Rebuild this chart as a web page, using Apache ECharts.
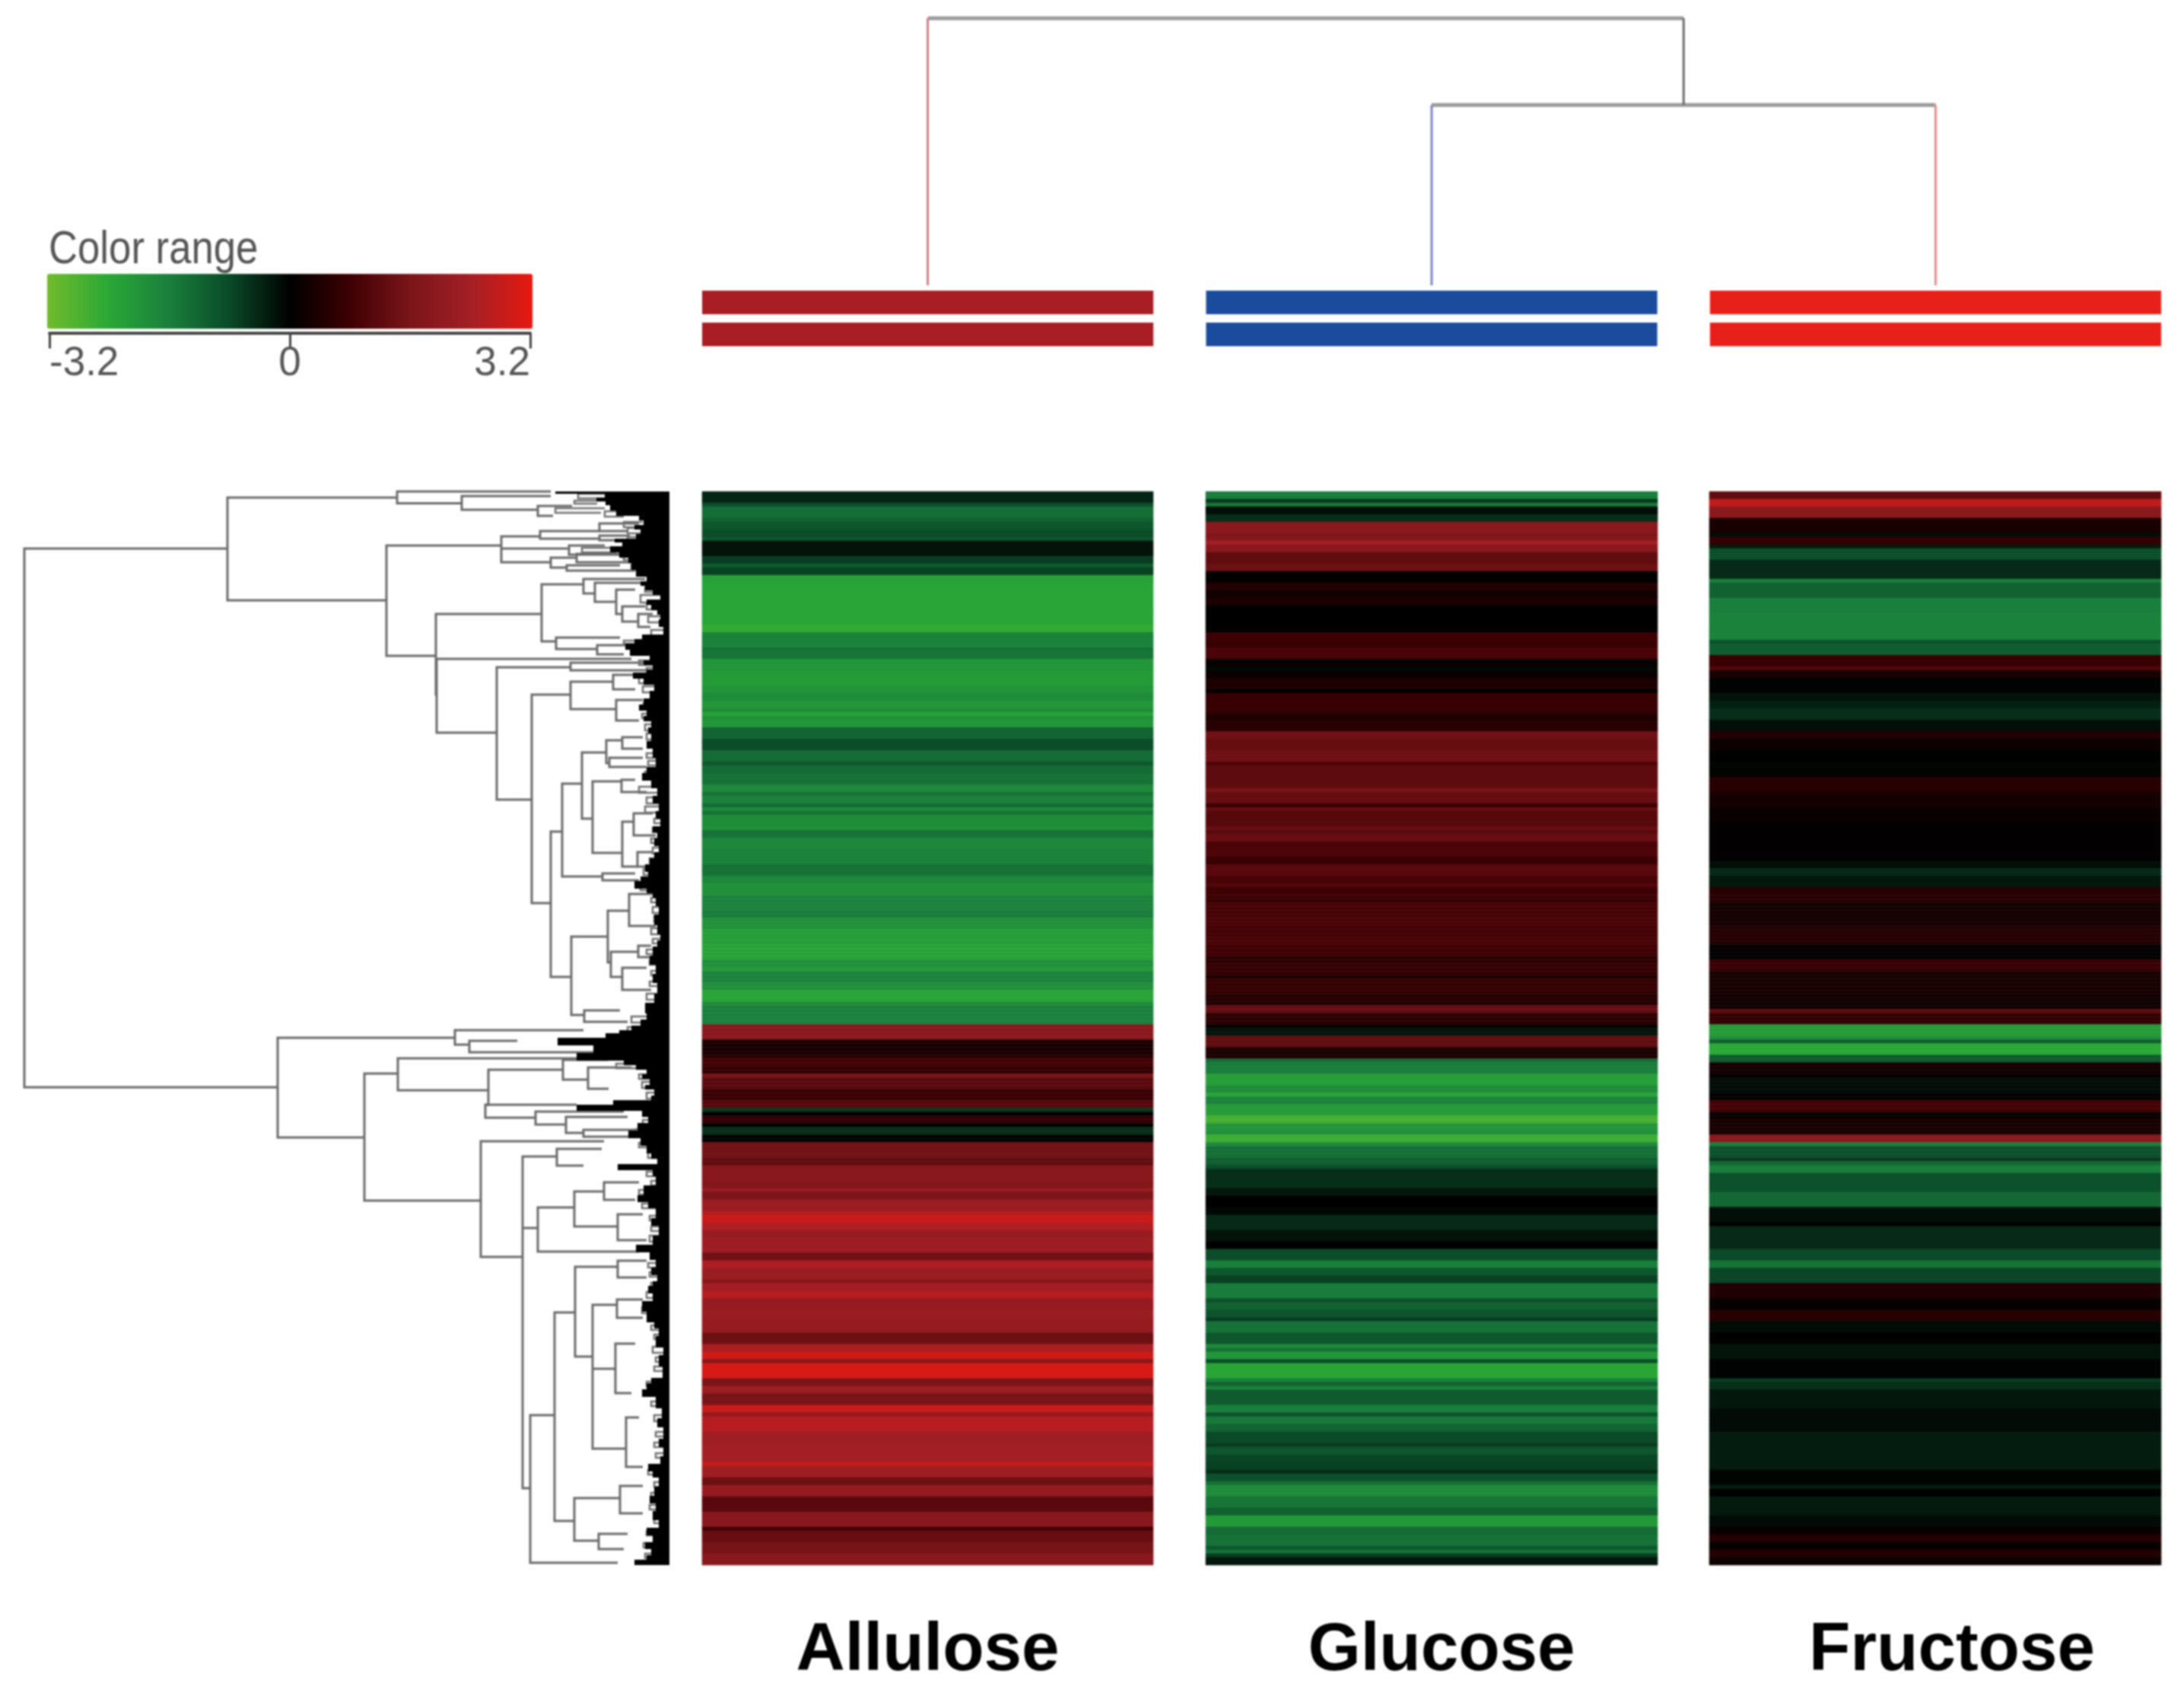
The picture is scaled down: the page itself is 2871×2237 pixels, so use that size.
<!DOCTYPE html>
<html><head><meta charset="utf-8">
<style>html,body{margin:0;padding:0;background:#fff}#c{width:2871px;height:2237px;filter:blur(1.3px)}</style>
<script src="https://cdn.jsdelivr.net/npm/echarts@6/dist/echarts.min.js"></script>
</head><body><div id="c"></div>
<script>
const samples = ['Allulose','Glucose','Fructose'];
const colorStops = ['#72bb2d','#2aa836','#1a7f3c','#0a4a28','#000000','#3f0003','#7b1519','#a41f25','#e81810'];
const rangeMin = -3.2, rangeMax = 3.2, rangeTicks = 3.2;
const rowCount = 282;

// each entry: [row where the band ends, log2 value]
const allulose = [[3,-.4],[4.5,-.85],[7.5,-1.35],[8.5,-1.15],[10.5,-1],[12,-.85],[13.5,-1],[17,-.2],[19,-.65],[20.5,-1.05],[21.8,-.7],[24,-2.25],[35.5,-2.33],[37.5,-2.5],[41,-1.65],[42,-1.4],[43.6,-1.45],[46.8,-2.05],[50.8,-2.15],[53,-2],[55.5,-1.85],[56.8,-2.05],[57.8,-1.85],[59.5,-2.3],[60.5,-1.95],[62,-2.05],[65.5,-1.2],[68.5,-.85],[70.8,-1.3],
[72.5,-1],[74,-1.3],[76.8,-1.4],[79,-1.8],[80,-1.4],[82.5,-1.65],[83.5,-1.3],[84.5,-1.8],[85.5,-1.4],[88,-1.85],[89.5,-1.95],[90.8,-1.4],[94,-1.75],[98,-1.65],[100.8,-1.4],[103.5,-1.75],[106,-1.95],[110,-1.65],[111.8,-1.55],[115.5,-1.95],[119.5,-2.2],[122.8,-2.3],[124.8,-1.9],[126,-2.1],[128.8,-1.65],[131,-1.9],[133.8,-2.3],[135.1,-1.85],[140.5,-1.6],[144.2,1.85],
[148.5,.3],[149,.55],[150.8,.85],[152.8,.65],[154.1,1.55],[157.1,1.15],[160.5,.72],[161.8,1.1],[163.1,-.6],[164.3,0],[165.8,.65],[167.1,0],[168.8,-.5],[171.3,-.03],[174.8,1.45],[177.5,1.25],[181.1,1.85],[182.8,1.75],[184.1,2.15],[186.1,1.6],[188.8,2.2],[190,2.55],[192.1,2.85],[194.1,2.55],[196.1,2.15],[200.1,2.25],[202.5,1.45],[203.8,2.5],[206.8,2.2],[208.5,1.8],[210.1,2.35],[212.1,2.6],[214.8,2.1],
[216.8,2.2],[221.5,2.1],[224.1,1.4],[226.5,2.5],[227.8,2.9],[229.5,1.8],[233.1,3],[235.1,1.6],[236.8,2.2],[240.5,1.55],[241.8,2.8],[242.8,2.05],[246.8,2.6],[251.5,2.3],[255.5,2.4],[256.5,2.8],[258.8,2.3],[260.8,1.4],[264.5,2.1],[268.5,1.15],[271.8,1.85],[273.5,.85],[276.2,1.35],[278.8,1.55],[282,1.85]];

const glucose = [[2.3,-1.6],[3.5,-.6],[4.5,-1.5],[6,-.15],[8,-.5],[11,1.9],[12,1.7],[13,1.85],[14.5,2.4],[16.5,1.85],[19,1.25],[21,1.4],[24,.05],[26,.45],[28,.2],[30,.35],[37.5,0],[39,.8],[41,.7],[44,.95],[46,.1],[47.5,-.1],[49,.1],[52,.35],[53,.03],[58,.7],[59,.5],[60.5,.35],[63,.5],[65.5,1.45],[68,1.3],[70.8,1.45],
[72.4,1],[76.8,1.2],[78,1.25],[79,1.55],[82,1.3],[83,.75],[84.5,1.3],[88,1.1],[89.5,1.35],[90.5,1.15],[92,1.35],[94,.95],[96.5,1],[98,.7],[101,1.15],[103,.9],[104,1.05],[107,.8],[108.5,.68],[111,.88],[114,.92],[117,.85],[119.5,.92],[122.5,.8],[124,.55],[127,.66],[128.5,.35],[132,.66],[135.5,.45],[136.8,1.3],[140.5,.55],[141.5,.05],[142.8,-.2],
[143.5,0],[146,1.25],[148.8,.35],[150.1,-1.3],[152.8,-1.55],[156.1,-2.2],[157.8,-1.85],[159.1,-2.35],[161.1,-1.65],[164.1,-2.15],[165.6,-2.7],[168.3,-2],[169.3,-1.9],[170.7,-2.6],[172.1,-1.8],[174.8,-1.35],[176.8,-1.1],[178.5,-.85],[182.8,-.5],[185.5,-.25],[188.1,0],[189.8,-.08],[194.1,-.45],[197.1,-.2],[199.5,0],[202.1,-.85],[204.1,-1.6],[206.1,-1],[208.5,-.7],[211.8,-1.55],[212.8,-.9],[214.8,-1.15],
[216.8,-.95],[218.1,-.65],[221.5,-1.4],[224.1,-1],[225.5,-1.85],[226.5,-1.4],[228.1,-2.05],[229.3,-.85],[232.7,-2.35],[234.1,-1.6],[235.1,-1.15],[236.5,-1.65],[240.5,-1.05],[241.8,-1.6],[242.8,-.9],[245.5,-1.5],[246.8,-1.2],[250.1,-.8],[251.5,-.65],[252.8,-.98],[255.5,-.75],[256.8,-.7],[258.1,-.5],[259.8,-.9],[260.8,-1.4],[264.5,-1.85],[266.8,-1.45],[268.8,-1.15],[272.1,-2.1],[273.8,-1.3],[276.8,-1.4],[278.1,-1],[279.5,-1.4],[280.1,-.65],[282,-.25]];

const fructose = [[2.3,1.25],[4.1,2.7],[7.5,1.9],[10.8,.3],[12.1,-.15],[13.8,.65],[15.1,-.3],[18.5,-.9],[22.8,-.45],[24.1,-1.6],[28.1,-1.15],[32.1,-1.6],[38.8,-1.65],[40.1,-.9],[43.1,-1.1],[45.8,.72],[47.5,1.05],[49.1,.3],[52.8,-.03],[55.5,-.2],[57.5,-.35],[59.8,-.5],[62.8,-.15],[65.5,.45],[68.1,.15],[70.8,0],
[74.8,-.05],[78.8,.5],[82.8,.25],[86.8,.12],[97.5,.02],[99.5,-.15],[101.5,-.45],[104.1,-.25],[108.1,.5],[114.1,.25],[118.8,.45],[122.8,.03],[126.1,.72],[132.1,.3],[135.8,.2],[136.8,1.25],[140.5,.65],[142.8,-2.15],
[144.2,-1.9],[145.5,-1.05],[148.5,-2.4],[150.1,-1.05],[153.5,.25],[154.5,.02],[158.5,-.12],[160.5,.02],[162.8,.85],[165.5,.12],[168.8,.3],[170.8,1.85],[172.5,-1.6],[174.8,-.9],[175.8,-.6],[177.5,-1.25],[178.8,-1.6],[184.5,-.9],[188.1,-1.25],[191.8,-.15],[192.8,0],[199.5,-.45],[202.5,-.8],[203.8,-1.4],[208.5,-.75],[211.8,.4],[214.8,.08],
[217.8,.5],[221.5,-.12],[224.1,0],[228.1,-.22],[232.8,-.03],[234.1,-.65],[236.5,-.5],[241.5,-.25],[246.8,-.12],[256.8,-.3],[260.8,-.05],[262.5,-.35],[264.1,0],[268.8,-.28],[272.1,-.12],[274.5,.08],[276.1,.45],[278.1,.08],[279.8,.45],[282,.15]];

// sample dendrogram: [sample index from, height from, sample index to, height to, branch]
const sampleEdges = [[0,351,1.5,351,'join'],[1,237,2,237,'join'],[1.5,351,1.5,237,'stem'],[0,351,0,0,'Allulose'],[1,237,1,0,'Glucose'],[2,237,2,0,'Fructose']];
// replicate strips under each sample: [sample index, strip top, strip bottom]
const replicateStrips = [[0,-7,-38],[0,-49,-80],[1,-7,-38],[1,-49,-80],[2,-7,-38],[2,-49,-80]];

// gene dendrogram merges: [distance, row of upper child, distance of upper child, row of lower child, distance of lower child]
const geneMerges = [[848,75,581,783,515],[581,8,358,143,372],[358,0,156,15.5,273],[273,6,156,24,173],[173,19,128,32,153],[372,71,221,216,307],[221,59,170,93,156],[170,52,92,62,92],[92,42,40,52,55],[92,58,52,64,40],[221,75,132,75,132],[132,71,85,83,60],[156,87,122,100,135],[122,82,60,93,50],[135,97,65,104,45],
[307,161,168,267,306],[168,122,113,197,149],[113,115,32,134,98],[98,120,32,145,70],[70,129,45,161,62],[62,151,32,171,41],[41,161,22,178,25],[149,192,65,207,95],[95,202,55,214,60],[306,220,50,317,227],[227,231,130,405,181],[130,225,30,235,28],[181,267,130,541,156],[130,250,74,286,70],[74,241,40,260,45],[70,274,35,301,40],
[156,447,141,638,129],[141,384,115,506,88],[115,343,83,430,101],[83,327,62,357,79],[62,323,35,338,35],[79,350,35,362,30],[101,381,63,475,62],[63,379,45,395,30],[62,434,47,493,42],[47,423,22,452,18],[42,474,22,493,25],[88,502,45,511,40],[129,585,81,688,112],[81,551,53,619,77],[53,529,20,571,18],[77,605,41,638,62],[41,597,24,612,22],[62,626,30,655,24],[112,682,65,697,55],
[515,718,282,849,401],[282,708,113,727,263],[263,722,200,737,90],[401,765,357,932,248],[357,745,120,787,238],[238,760,140,806,242],[242,806,122,823,176],[140,747,80,773,107],[107,757,50,785,80],[176,815,60,832,136],[136,822,55,843,113],[113,839,45,848,50],[248,854,86,1006,193],[193,874,148,1310,183],[148,864,89,886,113],[193,968,173,968,173],[173,941,125,999,40],[125,920,86,966,68],[86,908,40,931,45],[68,950,35,984,30],[183,1214,151,1408,68],[151,1079,124,1353,125],[124,1019,68,1137,101],[68,1011,30,1033,30],[101,1069,69,1258,57],[101,1153,71,1153,71],[69,1062,35,1086,35],[71,1120,45,1185,50],[57,1217,40,1282,35],[125,1323,65,1379,93],[65,1307,35,1343,35],[93,1370,55,1390,60]];

// small merges close to the leaves
const leafMerges = [[120,3,70,9,85],[125,12,75,16,95],[150,22,85,28,90],[85,26,50,33,60],[60,40,35,47,30],[55,48,30,55,28],[55,60,25,66,30],[115,74,60,80,70],[60,86,40,90,30],[50,96,30,103,32],[32,126,14,132,16],[38,136,10,146,12],[30,148,15,155,14],[28,164,8,172,10],[24,182,6,190,6],[60,196,25,200,28],[50,208,20,212,24],[40,222,14,228,16],[30,232,12,238,14],[40,244,18,252,20],[35,256,16,264,18],[34,278,14,284,16],[36,292,18,298,16],[32,306,16,314,14],[30,318,16,326,12],[28,330,14,336,12],[30,344,12,350,10],[28,354,12,360,10],[32,368,16,376,14],[40,388,16,396,12],[30,402,12,410,10],[32,414,14,422,12],[20,430,8,436,8],[22,442,10,448,8],[24,456,8,462,8],[22,468,10,476,8],[26,482,12,488,10],[34,496,16,504,14],[38,516,18,524,16],[24,534,10,540,8],[22,546,8,554,8],[20,558,8,566,8],[24,574,8,582,8],[22,588,8,594,8],[30,602,14,608,14],[26,616,12,622,10],[24,630,10,636,10],[26,644,10,650,10],[30,660,12,668,10],[28,676,14,684,12],[50,690,20,698,24],[55,704,30,710,26],[90,724,40,732,30],[70,752,35,758,30],[40,766,20,772,18],[36,776,16,784,14],[30,790,14,798,12],[35,826,16,832,14],[44,838,22,846,20],[40,856,22,862,18],[28,868,14,876,12],[30,894,14,900,12],[24,906,10,912,8],[40,918,22,924,18],[36,936,16,942,14],[26,952,12,958,10],[24,966,10,972,10],[26,978,12,986,10],[28,1014,12,1020,10],[26,1026,10,1032,10],[24,1040,10,1046,8],[30,1052,14,1060,12],[36,1072,18,1080,14],[24,1096,8,1102,8],[20,1108,6,1114,6],[22,1124,8,1132,6],[18,1138,6,1144,4],[20,1150,6,1156,6],[30,1170,14,1176,12],[34,1184,16,1188,14],[24,1196,8,1202,8],[20,1214,6,1222,6],[18,1236,6,1242,6],[20,1250,6,1256,4],[18,1264,6,1270,6],[28,1286,12,1292,10],[20,1302,8,1308,8],[24,1316,10,1324,8],[26,1332,10,1338,10],[20,1348,8,1356,6],[30,1366,14,1372,12],[34,1382,16,1388,14],[32,1396,14,1402,12]];

// solid leaf block: [row where it ends, distance reached by its leaves]
const leafBlock = [[3,150],[8,85],[13,96],[18,84],[25,78],[32,70],[38,40],[44,34],[50,46],[56,38],[62,44],[67,72],[72,62],[80,78],[87,66],[94,54],[103,50],[112,44],[118,30],[124,38],[130,32],[136,22],[142,12],[149,30],[156,24],[162,16],[168,12],[178,14],[188,8],[194,36],[200,46],[208,58],[216,52],[222,26],[228,34],[234,22],[238,30],[246,48],[254,34],[262,20],[272,26],[280,34],[288,40],[295,30],[302,34],[310,24],[318,28],[328,24],[338,30],[350,22],[362,18],[370,30],[380,36],[390,24],[400,16],[410,22],[420,14],[430,18],[440,12],[448,22],[456,16],[466,20],[474,14],[482,20],[490,26],[500,32],[506,28],[512,38],[522,46],[528,30],[534,22],[545,18],[556,14],[570,20],[582,16],[590,12],[598,16],[610,22],[622,26],[634,18],[646,22],[660,16],[672,20],[686,32],[694,30],[702,38],[708,50],[712,66],[718,84],[728,147],[738,100],[748,122],[754,60],[760,44],[766,30],[772,36],[780,26],[786,32],[794,20],[800,24],[806,74],[814,122],[822,36],[830,28],[840,42],[850,54],[860,38],[870,30],[877,24],[884,16],[892,68],[900,22],[912,18],[925,34],[934,42],[942,28],[955,18],[965,24],[978,14],[990,22],[1000,44],[1010,26],[1020,18],[1030,24],[1038,16],[1044,22],[1054,28],[1064,22],[1078,36],[1092,30],[1100,20],[1110,14],[1125,18],[1135,8],[1150,14],[1165,9],[1172,24],[1180,30],[1190,36],[1205,18],[1218,10],[1230,16],[1245,8],[1256,14],[1268,8],[1278,12],[1288,28],[1296,22],[1308,14],[1320,20],[1330,26],[1340,18],[1352,22],[1362,14],[1372,30],[1381,22],[1390,32],[1398,24],[1404,30],[1411,46]];

const rowsPerBand = 1;
const rowLabels = Array.from({length: rowCount*rowsPerBand}, (_, i) => String(i));
function expand(bands){
  return rowLabels.map((_, i) => {
    const r = (i+.5)/rowsPerBand;
    return [0, i, bands.find(b => b[0] > r)[1]];
  });
}
const columns = [
  {name:samples[0], bands:allulose, left:923, width:593, pad:0},
  {name:samples[1], bands:glucose, left:1585, width:594, pad:26},
  {name:samples[2], bands:fructose, left:2247, width:594, pad:44}
];
const lineGrey = '#6a6a6a';
const branchStyle = {join:['#9a9a9a',5],stem:['#6c6c6c',3],Allulose:['#cf7f86',3],Glucose:['#7d82c4',3],Fructose:['#ee8888',3]};
const stripColors = ['#a81e24','#1b4b9d','#e8201a'];

const grids = columns.map(c => ({left:c.left, width:c.width, top:646, height:1411, show:false}));
grids.push({left:923, width:1918, top:0, height:455, show:false});
grids.push({left:0, width:880, top:646, height:1411, show:false});
grids.push({left:65, width:632, top:437, height:1, show:false});

const xAxes = columns.map((c,i) => ({gridIndex:i, type:'category', data:[c.name],
  axisLine:{show:false}, axisTick:{show:false}, splitLine:{show:false},
  axisLabel:{interval:0, margin:69, padding:[0,0,0,c.pad], fontFamily:'Liberation Sans', fontWeight:'bold', fontSize:89, color:'#000'}}));
const yAxes = columns.map((c,i) => ({gridIndex:i, type:'category', data:rowLabels, inverse:true, show:false}));
xAxes.push({gridIndex:3, type:'value', min:-0.4477, max:2.4477, show:false});
yAxes.push({gridIndex:3, type:'value', min:-80, max:375, show:false});
xAxes.push({gridIndex:4, type:'value', min:0, max:880, inverse:true, show:false});
yAxes.push({gridIndex:4, type:'value', min:0, max:1411, inverse:true, show:false});
xAxes.push({gridIndex:5, type:'value', min:rangeMin, max:rangeMax, interval:rangeTicks, position:'bottom',
  axisLine:{show:true, lineStyle:{color:'#444', width:4}},
  axisTick:{show:true, length:20, lineStyle:{color:'#444', width:3}},
  splitLine:{show:false},
  axisLabel:{margin:14, alignMinLabel:'left', alignMaxLabel:'right', fontFamily:'Liberation Sans', fontSize:53, color:'#555',
    formatter:v => v===0 ? '0' : v.toFixed(1)}});
yAxes.push({gridIndex:5, type:'value', min:0, max:1, show:false});

const series = columns.map((c,i) => ({type:'heatmap', xAxisIndex:i, yAxisIndex:i, data:expand(c.bands), silent:true, progressive:0, emphasis:{disabled:true}, itemStyle:{borderWidth:0}}));

series.push({type:'custom', coordinateSystem:'cartesian2d', xAxisIndex:3, yAxisIndex:3, silent:true, clip:false,
  data:sampleEdges.map(e => [e[0],e[1],e[2],e[3],e[4]]),
  encode:{x:[0,2], y:[1,3]},
  renderItem:(p,api)=>{
    const e = sampleEdges[p.dataIndex];
    const a = api.coord([e[0],e[1]]), b = api.coord([e[2],e[3]]);
    const st = branchStyle[e[4]];
    return {type:'line', shape:{x1:a[0],y1:a[1],x2:b[0],y2:b[1]}, style:{stroke:st[0], lineWidth:st[1]}};
  }});
series.push({type:'custom', coordinateSystem:'cartesian2d', xAxisIndex:3, yAxisIndex:3, silent:true, clip:false,
  data:replicateStrips,
  encode:{x:0, y:[1,2]},
  renderItem:(p,api)=>{
    const s = replicateStrips[p.dataIndex];
    const half = 0.4477;
    const a = api.coord([s[0]-half,s[1]]), b = api.coord([s[0]+half,s[2]]);
    return {type:'rect', shape:{x:a[0],y:a[1],width:b[0]-a[0],height:b[1]-a[1]}, style:{fill:stripColors[s[0]]}};
  }});
function mergeRender(list, width, color){
  return (p,api)=>{
    const m = list[p.dataIndex];
    const t = api.coord([m[2],m[1]]), u = api.coord([m[0],m[1]]), l = api.coord([m[0],m[3]]), q = api.coord([m[4],m[3]]);
    return {type:'polyline', shape:{points:[t,u,l,q]}, style:{stroke:color, lineWidth:width, fill:null}};
  };
}
series.push({type:'custom', coordinateSystem:'cartesian2d', xAxisIndex:4, yAxisIndex:4, silent:true, clip:false,
  data:geneMerges, encode:{x:[0,2,4], y:[1,3]}, renderItem:mergeRender(geneMerges,3,lineGrey)});
series.push({type:'custom', coordinateSystem:'cartesian2d', xAxisIndex:4, yAxisIndex:4, silent:true, clip:false,
  data:leafMerges, encode:{x:[0,2,4], y:[1,3]}, renderItem:mergeRender(leafMerges,2.5,'#707070')});
series.push({type:'custom', coordinateSystem:'cartesian2d', xAxisIndex:4, yAxisIndex:4, silent:true, clip:false,
  data:leafBlock, encode:{x:1, y:0},
  renderItem:(p,api)=>{
    const b = leafBlock[p.dataIndex];
    const start = p.dataIndex ? leafBlock[p.dataIndex-1][0] : 0;
    const a = api.coord([b[1],start]), z = api.coord([0,b[0]]);
    return {type:'rect', shape:{x:a[0],y:a[1],width:z[0]-a[0],height:z[1]-a[1]}, style:{fill:'#000'}};
  }});

const chart = echarts.init(document.getElementById('c'), null, {renderer:'canvas', width:2871, height:2237});
chart.setOption({
  backgroundColor:'#fff', animation:false,
  graphic:[{type:'text', left:64, top:298, scaleX:.85, silent:true,
    style:{text:'Color range', fontFamily:'Liberation Sans', fontSize:62, fill:'#555'}}],
  tooltip:{show:false},
  visualMap:{type:'continuous', seriesIndex:[0,1,2], dimension:2, min:rangeMin, max:rangeMax, orient:'horizontal',
    left:62, top:360, padding:0, itemWidth:72, itemHeight:638, text:null, calculable:false, realtime:false, hoverLink:false, showLabel:false,
    inRange:{color:colorStops}, textStyle:{fontSize:0}, formatter:()=>'' },
  grid:grids, xAxis:xAxes, yAxis:yAxes, series
});
</script></body></html>
